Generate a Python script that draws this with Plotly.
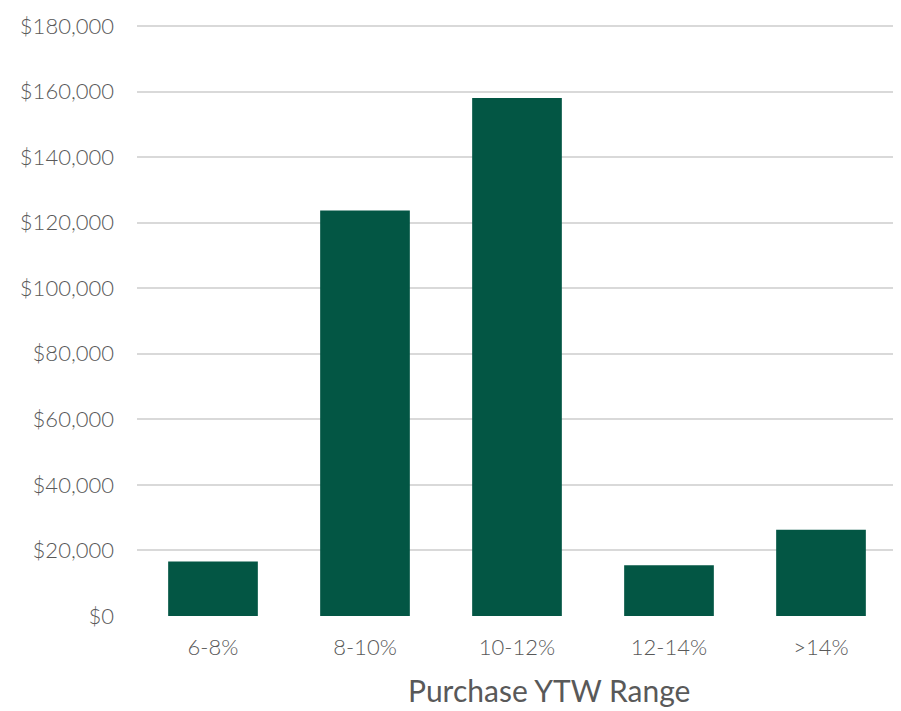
import plotly.graph_objects as go

# Purchase amounts by yield-to-worst bucket
ranges = ['6-8%', '8-10%', '10-12%', '12-14%', '>14%']
amounts = [16600, 123700, 158000, 15500, 26300]
y_ticks = list(range(0, 180001, 20000))
y_labels = [f'${v:,}' for v in y_ticks]

fig = go.Figure()
fig.add_trace(go.Bar(x=ranges, y=amounts, marker_color='#035644', marker_line_width=0))

# page body adds an 8px offset, so the figure is sized to fit the window
fig.update_layout(
    width=893, height=703,
    margin=dict(l=129, r=4, t=7, b=95),
    plot_bgcolor='white', paper_bgcolor='white',
    bargap=0.41,
    showlegend=False,
    font=dict(family='Lato', color='#595959', size=22, weight=300),
)
fig.update_yaxes(range=[0, 180900], tickvals=y_ticks, ticktext=y_labels,
                 showgrid=True, gridcolor='#d9d9d9', gridwidth=1.5,
                 zeroline=False, showline=False, ticks='', ticklabelstandoff=22,
                 ticklabeloverflow='allow')
fig.update_xaxes(showline=False, ticks='', ticklabelstandoff=16)

fig.add_annotation(text='Purchase YTW Range', xref='paper', yref='paper',
                   x=0.542, y=0, yanchor='middle', yshift=-74, showarrow=False,
                   font=dict(family='Lato', size=30, color='#595959', weight=400))

fig.write_html('out.html')
